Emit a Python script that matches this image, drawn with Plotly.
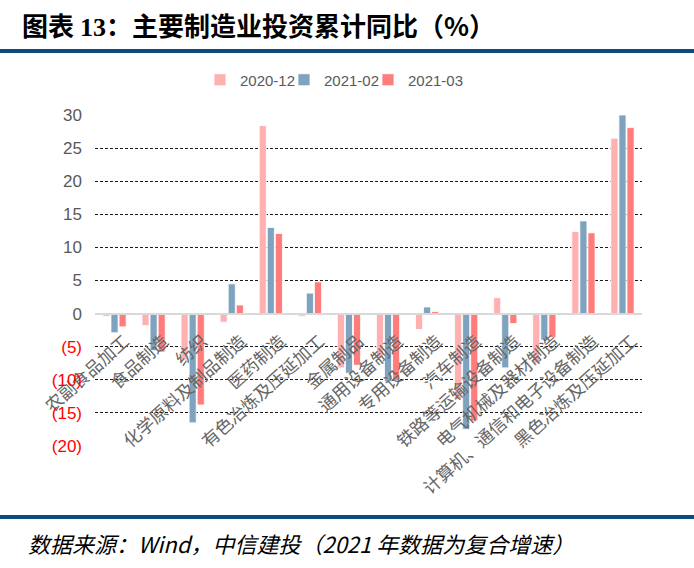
import plotly.graph_objects as go

categories = ["农副食品加工", "食品制造", "纺织", "化学原料及制品制造", "医药制造",
              "有色冶炼及压延加工", "金属制品", "通用设备制造", "专用设备制造", "汽车制造",
              "铁路等运输设备制造", "电气机械及器材制造", "计算机、通信和电子设备制造",
              "黑色冶炼及压延加工"]
series_names = ["2020-12", "2021-02", "2021-03"]
s_2020_12 = [-0.4, -1.8, -7.0, -1.3, 28.4, -0.4, -8.2, -6.6, -2.4, -13.0, 2.4, -7.5, 12.4, 26.5]
s_2021_02 = [-2.9, -5.6, -16.5, 4.5, 13.0, 3.1, -9.0, -10.3, 1.0, -17.5, -8.2, -4.0, 14.0, 30.0]
s_2021_03 = [-2.0, -5.8, -13.8, 1.3, 12.1, 4.8, -7.8, -10.1, 0.3, -16.2, -1.5, -3.6, 12.2, 28.1]
y_tick_vals = [-20, -15, -10, -5, 0, 5, 10, 15, 20, 25, 30]

colors = ["#FFB1B1", "#7FA3BE", "#FF7C7C"]

W, H = 694, 568
L, R, T, B = 95, 52, 115, 122
pw, ph = W - L - R, H - T - B


def px_x(x):
    return (x - L) / pw


def px_y(y):
    return (H - B - y) / ph


def tick_text(v):
    if v < 0:
        return "<span style='color:#FF0000'>(%d)</span>" % abs(v)
    return str(v)


legend_ids = ["legend", "legend2", "legend3"]
legend_square_left = [214, 298, 382]

fig = go.Figure()
for name, vals, c, lid in zip(series_names, [s_2020_12, s_2021_02, s_2021_03], colors, legend_ids):
    fig.add_trace(go.Bar(x=categories, y=vals, name=name, marker_color=c,
                         marker_line_color="white", marker_line_width=0.8, legend=lid))

ymin, ymax = min(y_tick_vals), max(y_tick_vals)
zero_pos = (0 - ymin) / (ymax - ymin)

legend_layout = {}
for lid, sx in zip(legend_ids, legend_square_left):
    legend_layout[lid] = dict(orientation="h", x=px_x(sx - 14), xanchor="left",
                              y=px_y(80), yanchor="middle",
                              font=dict(size=15, family="Liberation Sans", color="#595959"),
                              itemwidth=30, bgcolor="rgba(0,0,0,0)", borderwidth=0)

fig.update_layout(
    width=W, height=H,
    margin=dict(l=L, r=R, t=T, b=B, autoexpand=False),
    paper_bgcolor="white", plot_bgcolor="white",
    barmode="group", bargap=0.38, bargroupgap=0.12,
    font=dict(family="Noto Sans CJK SC", color="#595959"),
    showlegend=True,
    xaxis=dict(type="category", range=[-0.5, len(categories) - 0.5],
               anchor="free", position=zero_pos,
               showline=True, linecolor="#D9D9D9", linewidth=1.5,
               showgrid=False, ticks="", tickangle=-42,
               tickfont=dict(size=17.5, family="Noto Sans CJK SC", color="#666666"),
               ticklabelshift=10, ticklabelstandoff=10),
    yaxis=dict(range=[ymin, ymax], tickvals=y_tick_vals,
               ticktext=[tick_text(v) for v in y_tick_vals],
               showgrid=True, gridcolor="#1A1A1A", gridwidth=1, griddash="3px,2px",
               zeroline=True, zerolinecolor="#D9D9D9", zerolinewidth=1.5,
               showline=False, ticks="", ticklabelstandoff=12,
               tickfont=dict(size=17, family="Liberation Sans", color="#595959")),
    title=dict(text="<b>图表 <span style='font-family:Liberation Serif'>13</span>：主要制造业投资累计同比（%）</b>",
               xref="container", yref="container", x=22 / W, y=1 - 27 / H,
               xanchor="left", yanchor="middle",
               font=dict(size=26, family="Noto Sans CJK SC", color="#000000")),
    **legend_layout,
)

line_color = "#0C4A7D"
for yy in [51, 517]:
    fig.add_shape(type="line", xref="paper", yref="paper",
                  x0=px_x(0), x1=px_x(W), y0=px_y(yy), y1=px_y(yy),
                  line=dict(color=line_color, width=4))

fig.add_annotation(text="<i>数据来源：Wind，中信建投（2021 年数据为复合增速）</i>",
                   xref="paper", yref="paper", x=px_x(26), y=px_y(543),
                   xanchor="left", yanchor="middle", showarrow=False,
                   font=dict(size=22, family="Noto Sans CJK SC", color="#000000"))

fig.write_html("out.html", config={"displayModeBar": False},
               post_script="document.body.style.margin='0px';")
